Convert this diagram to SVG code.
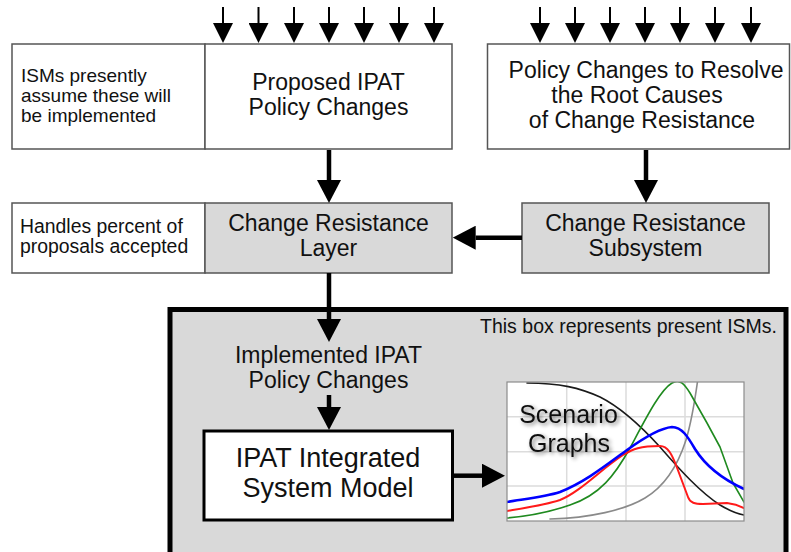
<svg xmlns="http://www.w3.org/2000/svg" width="791" height="552" viewBox="0 0 791 552">
  <style>
    .t { font-family: "Liberation Sans", Arial, sans-serif; fill: #111; }
    .big { font-size: 23px; text-anchor: middle; }
    .note { font-size: 19px; }
    .box { fill: #ffffff; stroke: #555; stroke-width: 1.5; }
    .gbox { fill: #d9d9d9; stroke: #555; stroke-width: 1.5; }
    .shaft { stroke: #000; stroke-width: 4.5; fill: none; }
    .thin { stroke: #000; stroke-width: 2; fill: none; }
    .grid { stroke: #dcdcdc; stroke-width: 1.5; fill: none; }
    .curve { fill: none; stroke-linejoin: round; stroke-linecap: round; }
  </style>
  <defs>
    <marker id="head" viewBox="0 0 23 24" refX="0" refY="12" markerWidth="23" markerHeight="24" markerUnits="userSpaceOnUse" orient="auto">
      <path d="M0,0 L23,12 L0,24 Z" fill="#000"/>
    </marker>
    <marker id="headSmall" viewBox="0 0 20 20" refX="0" refY="10" markerWidth="20" markerHeight="20" markerUnits="userSpaceOnUse" orient="auto">
      <path d="M0,0 L20,10 L0,20 Z" fill="#000"/>
    </marker>
    <clipPath id="plotClip">
      <rect x="507" y="382" width="237" height="139"/>
    </clipPath>
    <filter id="softShadow" x="-20%" y="-30%" width="140%" height="160%">
      <feGaussianBlur in="SourceAlpha" stdDeviation="2"/>
      <feOffset dx="2" dy="2" result="b"/>
      <feComponentTransfer><feFuncA type="linear" slope="0.55"/></feComponentTransfer>
      <feMerge><feMergeNode/><feMergeNode in="SourceGraphic"/></feMerge>
    </filter>
  </defs>

  <!-- outer frame: present integrated system models -->
  <g id="present-isms">
    <rect x="170" y="309.5" width="616" height="260" fill="#d9d9d9" stroke="#000" stroke-width="5"/>
    <text class="t" x="777" y="333" font-size="19.5" text-anchor="end">This box represents present ISMs.</text>
    <text class="t big" x="328.5" y="363">Implemented IPAT</text>
    <text class="t big" x="328.5" y="388">Policy Changes</text>
  </g>

  <!-- top row -->
  <g id="isms-note">
    <rect class="box" x="12" y="44" width="193" height="105"/>
    <text class="t note" x="21" y="82">ISMs presently</text>
    <text class="t note" x="21" y="102">assume these will</text>
    <text class="t note" x="21" y="121.5">be implemented</text>
  </g>
  <g id="proposed-changes">
    <rect class="box" x="205" y="44" width="247" height="105"/>
    <text class="t big" x="328.5" y="90">Proposed IPAT</text>
    <text class="t big" x="328.5" y="115">Policy Changes</text>
  </g>
  <g id="root-cause-changes">
    <rect class="box" x="487.5" y="44" width="302" height="105"/>
    <text class="t big" x="646" y="78">Policy Changes to Resolve</text>
    <text class="t big" x="637" y="103">the Root Causes</text>
    <text class="t big" x="642" y="128">of Change Resistance</text>
  </g>

  <!-- middle row -->
  <g id="handles-note">
    <rect class="box" x="12" y="203" width="193" height="70"/>
    <text class="t" x="20" y="233" font-size="19.4">Handles percent of</text>
    <text class="t" x="20" y="253" font-size="19.4">proposals accepted</text>
  </g>
  <g id="resistance-layer">
    <rect class="gbox" x="205" y="203" width="247" height="70"/>
    <text class="t big" x="328.5" y="231">Change Resistance</text>
    <text class="t big" x="328.5" y="256">Layer</text>
  </g>
  <g id="resistance-subsystem">
    <rect class="gbox" x="522" y="203" width="247" height="70"/>
    <text class="t big" x="645.5" y="231">Change Resistance</text>
    <text class="t big" x="645.5" y="256">Subsystem</text>
  </g>

  <!-- model box -->
  <g id="integrated-model">
    <rect x="204" y="431" width="248.5" height="89" fill="#fff" stroke="#000" stroke-width="3"/>
    <text class="t" x="328" y="467" font-size="27" text-anchor="middle">IPAT Integrated</text>
    <text class="t" x="328" y="497" font-size="27" text-anchor="middle">System Model</text>
  </g>

  <!-- scenario output chart -->
  <g id="scenario-graphs">
    <rect x="507" y="382" width="237" height="139" fill="#fff"/>
    <path class="grid" d="M566.7,382 V521 M626,382 V521 M685,382 V521 M507,416.7 H744 M507,451.7 H744 M507,486 H744"/>
    <g clip-path="url(#plotClip)">
      <path class="curve" stroke="#1a1a1a" stroke-width="1.6" d="M527,383 C560,383 580,388 600,397 C620,407 640,425 660,447 C680,470 700,492 720,505 C730,511 738,514 744,515"/>
      <path class="curve" stroke="#8a8a8a" stroke-width="1.6" d="M550,519 C590,518 625,510 645,498 C665,486 678,465 686,440 C692,420 695,400 698,378"/>
      <path class="curve" stroke="#1f8a1f" stroke-width="1.6" d="M507,518 C530,516 550,512 570,505 C600,495 615,475 630,448 C645,420 660,390 672,383 C680,378 685,385 690,393 L707,423 L720,447 L733,483 L744,502"/>
      <path class="curve" stroke="#ff1a1a" stroke-width="2" d="M507,511 C525,508 545,505 560,500 C580,492 600,470 623,455 C633,449 640,446 660,446 C668,446 672,455 676,465 L688,497 C690,503 695,504 703,504 L727,503 C735,504 740,506 744,508"/>
      <path class="curve" stroke="#0000ff" stroke-width="2.6" d="M507,502 C525,499 545,497 560,492 C585,482 605,466 627,450 C645,437 660,428 672,427 C682,427 688,437 695,449 C705,465 720,478 744,489"/>
    </g>
    <rect x="507" y="382" width="237" height="139" fill="none" stroke="#8c8c8c" stroke-width="1.2"/>
    <g filter="url(#softShadow)">
      <text class="t" x="568.5" y="423" font-size="25" text-anchor="middle">Scenario</text>
      <text class="t" x="569" y="452" font-size="25" text-anchor="middle">Graphs</text>
    </g>
  </g>

  <!-- connectors -->
  <g id="connectors">
    <g class="thin" marker-end="url(#headSmall)">
      <path d="M223,7 V23"/>
      <path d="M258.5,7 V23"/>
      <path d="M294,7 V23"/>
      <path d="M329,7 V23"/>
      <path d="M364,7 V23"/>
      <path d="M399,7 V23"/>
      <path d="M434,7 V23"/>
      <path d="M540,7 V23"/>
      <path d="M575,7 V23"/>
      <path d="M610,7 V23"/>
      <path d="M645,7 V23"/>
      <path d="M680,7 V23"/>
      <path d="M715,7 V23"/>
      <path d="M751,7 V23"/>
    </g>
    <g class="shaft" marker-end="url(#head)">
      <path d="M329,150 V180"/>
      <path d="M646,150 V180"/>
      <path d="M522,237.7 H475.7"/>
      <path d="M329,273 V319"/>
      <path d="M329,395 V407"/>
      <path d="M452.7,475.7 H482"/>
    </g>
  </g>
</svg>
